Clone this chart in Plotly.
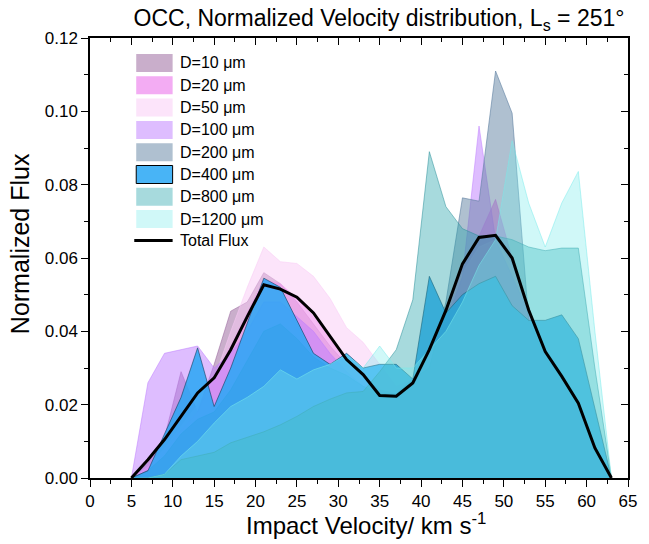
import plotly.graph_objects as go

velocity = [5, 7, 9, 11, 13, 15, 17, 19, 21, 23, 25, 27, 29, 31, 33, 35, 37, 39, 41, 43,
            45, 47, 49, 51, 53, 55, 57, 59, 61, 63]

d10 = [0, 0.004, 0.011, 0.029, 0.018, 0.031, 0.0455, 0.048, 0.056, 0.053, 0.048, 0.042, 0.036, 0.031, 0.028,
       0.024, 0.023, 0.026, 0.034, 0.046, 0.058, 0.065, 0.066, 0.060, 0.046, 0.035, 0.028, 0.020, 0.008, 0]
d20 = [0, 0.003, 0.008, 0.013, 0.018, 0.028, 0.036, 0.045, 0.054, 0.053, 0.049, 0.044, 0.038, 0.031, 0.028,
       0.024, 0.022, 0.026, 0.033, 0.043, 0.058, 0.066, 0.076, 0.060, 0.045, 0.034, 0.027, 0.020, 0.008, 0]
d50 = [0, 0.003, 0.008, 0.014, 0.020, 0.027, 0.040, 0.052, 0.063, 0.059, 0.0585, 0.055, 0.049, 0.041, 0.037,
       0.031, 0.025, 0.027, 0.035, 0.045, 0.056, 0.063, 0.065, 0.058, 0.045, 0.034, 0.027, 0.020, 0.008, 0]
d100 = [0, 0.026, 0.034, 0.035, 0.036, 0.030, 0.034, 0.040, 0.048, 0.048, 0.044, 0.040, 0.034, 0.029, 0.025,
        0.022, 0.022, 0.026, 0.033, 0.042, 0.055, 0.096, 0.065, 0.055, 0.045, 0.034, 0.026, 0.019, 0.007, 0]
d200 = [0, 0.002, 0.006, 0.012, 0.016, 0.018, 0.024, 0.032, 0.040, 0.042, 0.038, 0.033, 0.030, 0.028, 0.025,
        0.023, 0.023, 0.027, 0.030, 0.048, 0.0764, 0.0755, 0.111, 0.0995, 0.043, 0.033, 0.027, 0.020, 0.008, 0]
d400 = [0, 0.002, 0.012, 0.022, 0.0355, 0.0195, 0.030, 0.042, 0.0545, 0.052, 0.043, 0.034, 0.031, 0.034, 0.030,
        0.031, 0.031, 0.027, 0.055, 0.045, 0.050, 0.053, 0.055, 0.047, 0.043, 0.043, 0.0445, 0.038, 0.019, 0]
d800 = [0, 0, 0.001, 0.005, 0.006, 0.007, 0.0096, 0.011, 0.0126, 0.0145, 0.0168, 0.0195, 0.0215, 0.0232, 0.0236,
        0.029, 0.035, 0.0486, 0.089, 0.074, 0.068, 0.066, 0.066, 0.065, 0.063, 0.062, 0.0627, 0.0627, 0.030, 0]
d1200 = [0, 0, 0.001, 0.006, 0.010, 0.015, 0.0195, 0.022, 0.025, 0.0295, 0.027, 0.0295, 0.031, 0.0336, 0.030,
         0.036, 0.030, 0.030, 0.035, 0.040, 0.048, 0.058, 0.065, 0.092, 0.075, 0.063, 0.075, 0.0836, 0.040, 0]
total = [0, 0.005, 0.0105, 0.0168, 0.0232, 0.0273, 0.035, 0.044, 0.0527, 0.0515, 0.0493, 0.045, 0.0386, 0.0323,
         0.0282, 0.0225, 0.0223, 0.0259, 0.035, 0.0457, 0.0584, 0.0656, 0.0662, 0.060, 0.0458, 0.0345, 0.0277,
         0.0204, 0.0082, 0]

names = ["D=10 μm", "D=20 μm", "D=50 μm", "D=100 μm", "D=200 μm", "D=400 μm", "D=800 μm", "D=1200 μm"]
series = [d10, d20, d50, d100, d200, d400, d800, d1200]
fills = ["rgba(147,93,151,0.5)", "rgba(232,90,232,0.5)", "rgba(249,201,245,0.5)", "rgba(189,123,255,0.5)",
         "rgba(95,129,161,0.5)", "rgba(40,167,244,0.85)", "rgba(35,162,170,0.4)", "rgba(121,235,235,0.35)"]
lines = ["rgba(147,93,151,0.5)", "rgba(232,90,232,0.4)", "rgba(249,201,245,0.5)", "rgba(189,123,255,0.5)",
         "rgba(95,129,161,0.6)", "rgba(20,60,90,0.6)", "rgba(35,140,150,0.5)", "rgba(121,235,235,0.5)"]
swatch_borders = [None, None, None, None, None, "black", None, None]

W, H = 649, 544
ML, MR, MT, MB = 90, 12, 38, 66
PW, PH = W - ML - MR, H - MT - MB


def px_to_paper_x(px):
    return (px - ML) / PW


def px_to_paper_y(py):
    return (H - MB - py) / PH


fig = go.Figure()
for nm, ys, fc, lc in zip(names, series, fills, lines):
    fig.add_trace(go.Scatter(x=velocity, y=ys, name=nm, mode="lines", fill="tozeroy",
                             fillcolor=fc, line=dict(color=lc, width=1), showlegend=False))
fig.add_trace(go.Scatter(x=velocity, y=total, name="Total Flux", mode="lines",
                         line=dict(color="black", width=3), showlegend=False))
# dummy trace for mirrored axes (top/right, inward ticks)
fig.add_trace(go.Scatter(x=[], y=[], xaxis="x2", yaxis="y2", showlegend=False))

font_family = "Arial, Liberation Sans, sans-serif"

# custom legend (swatch boxes + real text)
shapes = []
annotations = []
leg_x0, leg_x1, leg_text_x = 137, 174, 179
leg_y0, leg_dy, box_h = 63, 22.3, 18
for i, (nm, fc, bc) in enumerate(zip(names, fills, swatch_borders)):
    cy = leg_y0 + i * leg_dy
    shapes.append(dict(type="rect", xref="paper", yref="paper",
                       x0=px_to_paper_x(leg_x0), x1=px_to_paper_x(leg_x1),
                       y0=px_to_paper_y(cy + box_h / 2), y1=px_to_paper_y(cy - box_h / 2),
                       fillcolor=fc, line=dict(color=bc if bc else "rgba(0,0,0,0)", width=1 if bc else 0),
                       layer="above"))
    annotations.append(dict(text=nm, xref="paper", yref="paper", x=px_to_paper_x(leg_text_x),
                            y=px_to_paper_y(cy), xanchor="left", yanchor="middle", showarrow=False,
                            font=dict(size=16, family=font_family, color="black")))
cy = leg_y0 + len(names) * leg_dy - 1
shapes.append(dict(type="line", xref="paper", yref="paper", x0=px_to_paper_x(135), x1=px_to_paper_x(174),
                   y0=px_to_paper_y(cy), y1=px_to_paper_y(cy), line=dict(color="black", width=3),
                   layer="above"))
annotations.append(dict(text="Total Flux", xref="paper", yref="paper", x=px_to_paper_x(leg_text_x),
                        y=px_to_paper_y(cy), xanchor="left", yanchor="middle", showarrow=False,
                        font=dict(size=16, family=font_family, color="black")))

# axis titles as annotations (positioned like the reference)
annotations.append(dict(text="Impact Velocity/ km s<sup>-1</sup>", xref="paper", yref="paper",
                        x=px_to_paper_x(371), y=px_to_paper_y(524), xanchor="center", yanchor="middle",
                        showarrow=False, font=dict(size=24, family=font_family, color="black")))
annotations.append(dict(text="Normalized Flux", xref="paper", yref="paper", textangle=-90,
                        x=px_to_paper_x(19), y=px_to_paper_y(244), xanchor="center", yanchor="middle",
                        showarrow=False, font=dict(size=25, family=font_family, color="black")))

fig.update_layout(
    width=W, height=H,
    margin=dict(l=ML, r=MR, t=MT, b=MB),
    paper_bgcolor="white", plot_bgcolor="white",
    font=dict(family=font_family, color="black"),
    title=dict(text="OCC, Normalized Velocity distribution, L<sub>s</sub> = 251°",
               x=0.584, xanchor="center", y=0.967, yanchor="middle",
               font=dict(size=23, color="black", family=font_family)),
    xaxis=dict(range=[0, 65], dtick=5, tick0=0, showline=True, linecolor="black", linewidth=1.5,
               ticks="outside", ticklen=7, tickwidth=1.3, tickcolor="black",
               minor=dict(dtick=2.5, ticks="outside", ticklen=4, tickwidth=1.2, tickcolor="black"),
               showgrid=False, zeroline=False, tickfont=dict(size=17)),
    yaxis=dict(range=[0, 0.12], dtick=0.02, tick0=0, tickformat=".2f", showline=True, linecolor="black",
               linewidth=1.5, ticks="outside", ticklen=7, tickwidth=1.3, tickcolor="black",
               minor=dict(dtick=0.01, ticks="outside", ticklen=4, tickwidth=1.2, tickcolor="black"),
               showgrid=False, zeroline=False, tickfont=dict(size=17)),
    xaxis2=dict(range=[0, 65], overlaying="x", side="top", dtick=5, tick0=0, showline=True,
                linecolor="black", linewidth=1.5, ticks="inside", ticklen=7, tickwidth=1.3,
                tickcolor="black", showticklabels=False, showgrid=False, zeroline=False,
                minor=dict(dtick=2.5, ticks="inside", ticklen=4, tickwidth=1.2, tickcolor="black")),
    yaxis2=dict(range=[0, 0.12], overlaying="y", side="right", dtick=0.02, tick0=0, showline=True,
                linecolor="black", linewidth=1.5, ticks="inside", ticklen=7, tickwidth=1.3,
                tickcolor="black", showticklabels=False, showgrid=False, zeroline=False,
                minor=dict(dtick=0.01, ticks="inside", ticklen=4, tickwidth=1.2, tickcolor="black")),
    shapes=shapes,
    annotations=annotations,
    showlegend=False,
)

fig.write_html("out.html")
